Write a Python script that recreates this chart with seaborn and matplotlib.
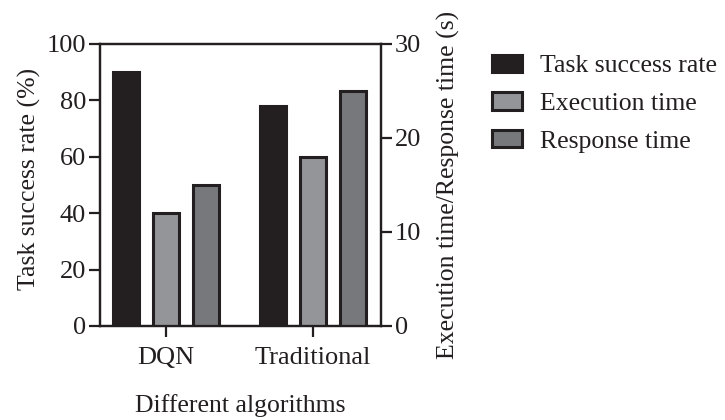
import matplotlib
matplotlib.use("Agg")
import matplotlib.pyplot as plt
from matplotlib.patches import Patch
import seaborn as sns
import pandas as pd
import numpy as np

algorithms = ["DQN", "Traditional"]
series = ["Task success rate", "Execution time", "Response time"]
success_rate = [90, 78]        # %
execution_time = [12, 18]      # s
response_time = [15, 25]       # s
colors = ["#231f20", "#939598", "#77787b"]

sns.set_theme(style="ticks")
plt.rcParams["font.family"] = ["Liberation Serif", "DejaVu Serif"]
ink = "#231f20"
plt.rcParams.update({
    "text.color": ink, "axes.labelcolor": ink, "xtick.color": ink,
    "ytick.color": ink, "axes.edgecolor": ink, "axes.linewidth": 1.6,
    "xtick.major.width": 1.6, "ytick.major.width": 1.6,
    "xtick.major.size": 8, "ytick.major.size": 8,
    "xtick.major.pad": 7, "ytick.major.pad": 2,
})

nan2 = [np.nan, np.nan]
def frame(vals):
    return pd.concat([pd.DataFrame({"Algorithm": algorithms, "Series": s, "Value": v})
                      for s, v in zip(series, vals)], ignore_index=True)

df_left = frame([success_rate, nan2, nan2])
df_right = frame([nan2, execution_time, response_time])

palette = dict(zip(series, colors))

fig, ax = plt.subplots(figsize=(7.25, 4.2), dpi=100)
fig.subplots_adjust(left=100/725, right=381/725, top=1-44/420, bottom=1-326/420)
ax2 = ax.twinx()

common = dict(x="Algorithm", y="Value", hue="Series", hue_order=series,
              order=algorithms, palette=palette, width=0.816, gap=0.35,
              edgecolor=ink, linewidth=2.2, legend=False, saturation=1)
sns.barplot(data=df_left, ax=ax, **common)
sns.barplot(data=df_right, ax=ax2, **common)

ax.set_ylim(0, 100)
ax.set_yticks([0, 20, 40, 60, 80, 100])
ax2.set_ylim(0, 30)
ax2.set_yticks([0, 10, 20, 30])
ax.set_xlim(-0.449, 1.463)

fs_tick = 19
fs = 18.5
ax.set_ylabel("Task success rate (%)", fontsize=fs, labelpad=4)
ax.yaxis.label.set_y(0.52)
ax2.set_ylabel("Execution time/Response time (s)", fontsize=fs, labelpad=11)
ax.set_xlabel("Different algorithms", fontsize=fs, labelpad=18)
ax.tick_params(axis="both", labelsize=fs_tick)
ax2.tick_params(axis="y", labelsize=fs_tick)
for a in (ax, ax2):
    for s in a.spines.values():
        s.set_visible(True)
        s.set_linewidth(1.6)
        s.set_color(ink)

handles = [Patch(facecolor=c, edgecolor=ink, linewidth=2.2) for c in colors]
fig.legend(handles, series, loc="upper left", bbox_to_anchor=(484/725, 1-47/420),
           frameon=False, fontsize=fs, handlelength=1.17, handleheight=0.66,
           labelspacing=0.58, handletextpad=0.7, borderaxespad=0, borderpad=0.3)

fig.savefig("out.png", dpi=100)
